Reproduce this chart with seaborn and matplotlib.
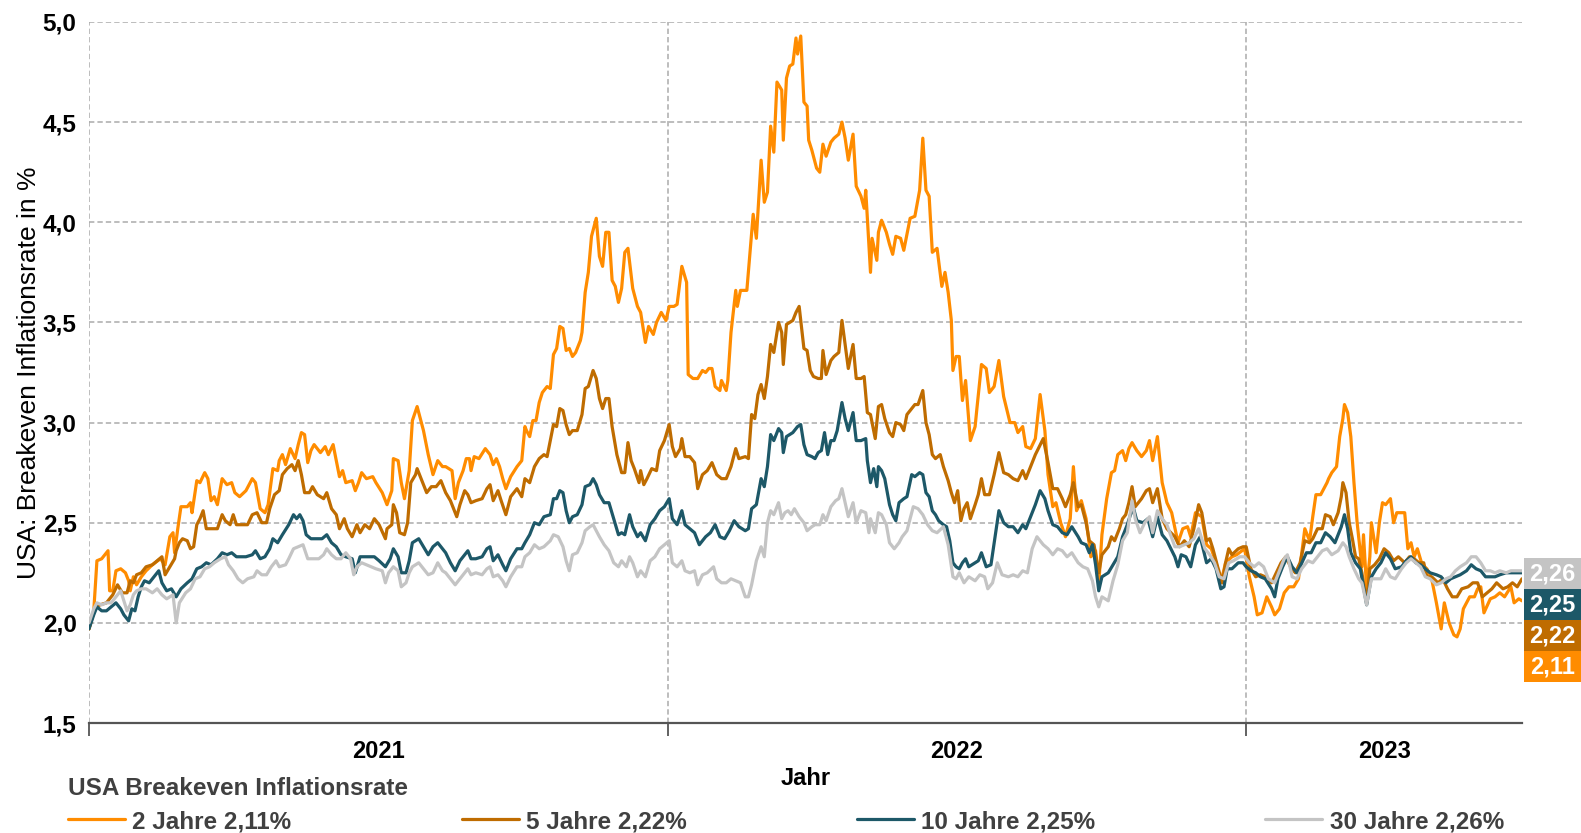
import matplotlib
matplotlib.use("Agg")
from matplotlib import pyplot as plt
from matplotlib.patches import Rectangle
from matplotlib.ticker import FuncFormatter, NullFormatter
import matplotlib.transforms as mtransforms
import pandas as pd
import seaborn as sns

START = pd.Timestamp("2021-01-01")
END_DAY = 904  # last trading day shown, days after START

# (days after 2021-01-01, breakeven rate in %)
s2 = [(0, 1.97), (3, 2.06), (5, 2.31), (8, 2.32), (12, 2.36), (13, 2.16), (15, 2.16), (17, 2.26), (20, 2.27),
      (23, 2.25), (25, 2.21), (26, 2.16), (28, 2.23), (30, 2.19), (33, 2.23), (36, 2.26), (40, 2.29), (45, 2.32),
      (48, 2.29), (51, 2.43), (53, 2.45), (54, 2.35), (56, 2.47), (58, 2.58), (62, 2.58), (64, 2.60), (65, 2.55),
      (68, 2.71), (70, 2.70), (73, 2.75), (75, 2.72), (77, 2.61), (79, 2.63), (81, 2.59), (84, 2.72), (87, 2.69),
      (90, 2.70), (92, 2.65), (95, 2.63), (99, 2.66), (103, 2.72), (105, 2.70), (108, 2.57), (111, 2.55),
      (113, 2.59), (116, 2.77), (119, 2.76), (120, 2.81), (122, 2.84), (124, 2.79), (127, 2.87), (130, 2.82),
      (132, 2.89), (134, 2.95), (136, 2.94), (138, 2.80), (140, 2.86), (142, 2.89), (146, 2.85), (149, 2.88),
      (151, 2.84), (154, 2.89), (156, 2.81), (158, 2.73), (160, 2.76), (162, 2.70), (166, 2.71), (168, 2.66),
      (170, 2.70), (172, 2.75), (175, 2.72), (179, 2.73), (181, 2.70), (185, 2.65), (188, 2.59), (191, 2.66),
      (192, 2.82), (195, 2.81), (197, 2.70), (199, 2.62), (202, 2.76), (204, 3.01), (207, 3.08), (211, 2.96),
      (214, 2.84), (217, 2.74), (220, 2.81), (223, 2.78), (225, 2.78), (229, 2.76), (231, 2.62), (233, 2.70),
      (236, 2.76), (238, 2.82), (240, 2.82), (241, 2.76), (243, 2.83), (246, 2.82), (250, 2.87), (253, 2.84),
      (255, 2.79), (257, 2.82), (259, 2.78), (261, 2.72), (263, 2.67), (266, 2.73), (270, 2.78), (273, 2.81),
      (275, 2.98), (276, 2.96), (278, 2.93), (280, 3.01), (282, 3.01), (284, 3.10), (286, 3.15), (289, 3.18),
      (291, 3.17), (293, 3.34), (295, 3.37), (297, 3.48), (299, 3.47), (301, 3.36), (303, 3.37), (305, 3.33),
      (307, 3.35), (310, 3.41), (311, 3.45), (313, 3.65), (315, 3.75), (317, 3.93), (320, 4.02), (322, 3.83),
      (324, 3.78), (326, 3.95), (328, 3.95), (330, 3.71), (332, 3.68), (334, 3.60), (336, 3.67), (338, 3.85),
      (340, 3.87), (343, 3.67), (346, 3.58), (348, 3.55), (351, 3.40), (353, 3.48), (356, 3.44), (358, 3.50),
      (361, 3.55), (364, 3.51), (366, 3.58), (369, 3.58), (371, 3.59), (374, 3.78), (377, 3.70), (378, 3.24),
      (381, 3.22), (384, 3.22), (387, 3.26), (389, 3.25), (391, 3.27), (393, 3.27), (395, 3.18), (398, 3.16),
      (399, 3.21), (402, 3.16), (403, 3.21), (405, 3.45), (408, 3.66), (409, 3.58), (411, 3.66), (415, 3.66),
      (418, 3.95), (419, 4.04), (421, 3.92), (424, 4.31), (426, 4.10), (428, 4.15), (430, 4.48), (432, 4.35),
      (434, 4.70), (437, 4.66), (438, 4.41), (440, 4.72), (442, 4.78), (444, 4.79), (446, 4.92), (447, 4.84),
      (449, 4.93), (451, 4.60), (453, 4.58), (454, 4.41), (456, 4.36), (459, 4.27), (461, 4.25), (463, 4.39),
      (465, 4.33), (468, 4.40), (470, 4.42), (473, 4.44), (475, 4.50), (477, 4.42), (479, 4.31), (482, 4.44),
      (484, 4.18), (487, 4.13), (489, 4.07), (490, 4.16), (493, 3.75), (494, 3.92), (497, 3.81), (498, 3.95),
      (500, 4.01), (503, 3.95), (505, 3.89), (507, 3.84), (509, 3.93), (512, 3.92), (514, 3.86), (518, 4.02),
      (521, 4.03), (524, 4.16), (526, 4.42), (528, 4.16), (530, 4.13), (532, 3.85), (535, 3.87), (538, 3.68),
      (540, 3.75), (542, 3.65), (544, 3.51), (545, 3.26), (547, 3.33), (549, 3.33), (551, 3.11), (553, 3.21),
      (556, 2.91), (559, 2.98), (560, 3.06), (563, 3.29), (566, 3.27), (568, 3.15), (571, 3.18), (574, 3.31),
      (577, 3.13), (581, 3.00), (584, 3.00), (586, 2.95), (589, 2.98), (591, 2.88), (594, 2.87), (597, 2.92),
      (600, 3.14), (603, 2.96), (605, 2.74), (608, 2.58), (610, 2.60), (613, 2.50), (616, 2.43), (619, 2.52),
      (621, 2.78), (623, 2.56), (626, 2.61), (629, 2.52), (632, 2.33), (635, 2.36), (637, 2.19), (639, 2.44),
      (642, 2.62), (645, 2.75), (647, 2.76), (649, 2.84), (652, 2.86), (654, 2.81), (656, 2.87), (658, 2.90),
      (661, 2.86), (664, 2.83), (667, 2.86), (669, 2.91), (671, 2.81), (674, 2.93), (677, 2.70), (680, 2.60),
      (683, 2.55), (687, 2.40), (690, 2.47), (693, 2.48), (695, 2.43), (698, 2.55), (702, 2.53), (705, 2.39),
      (708, 2.37), (711, 2.30), (714, 2.20), (717, 2.30), (721, 2.33), (724, 2.34), (729, 2.37), (732, 2.23),
      (735, 2.13), (737, 2.04), (740, 2.05), (743, 2.13), (746, 2.08), (748, 2.04), (751, 2.07), (754, 2.15),
      (757, 2.18), (760, 2.18), (763, 2.22), (767, 2.47), (770, 2.41), (772, 2.53), (774, 2.64), (777, 2.64),
      (781, 2.70), (782, 2.72), (784, 2.75), (787, 2.78), (789, 2.93), (791, 3.02), (792, 3.09), (794, 3.05),
      (796, 2.93), (798, 2.70), (800, 2.50), (803, 2.28), (804, 2.44), (806, 2.17), (808, 2.33), (809, 2.50),
      (812, 2.35), (814, 2.50), (816, 2.60), (818, 2.59), (821, 2.62), (823, 2.50), (825, 2.55), (828, 2.55),
      (830, 2.55), (832, 2.37), (834, 2.40), (836, 2.33), (838, 2.37), (841, 2.29), (844, 2.27), (847, 2.22),
      (850, 2.10), (853, 1.97), (855, 2.10), (858, 2.00), (861, 1.94), (863, 1.93), (865, 1.97), (867, 2.07),
      (871, 2.13), (874, 2.13), (876, 2.17), (878, 2.18), (880, 2.05), (884, 2.12), (887, 2.13), (890, 2.15),
      (893, 2.13), (897, 2.18), (899, 2.10), (902, 2.12), (904, 2.11)]

s5 = [(0, 1.97), (4, 2.08), (7, 2.09), (11, 2.10), (15, 2.14), (18, 2.19), (21, 2.15), (24, 2.15), (26, 2.21),
      (28, 2.20), (30, 2.24), (33, 2.25), (36, 2.28), (40, 2.29), (43, 2.31), (46, 2.33), (48, 2.24), (51, 2.28),
      (54, 2.32), (55, 2.36), (57, 2.40), (59, 2.42), (62, 2.41), (64, 2.37), (66, 2.38), (68, 2.49), (70, 2.52),
      (72, 2.56), (74, 2.47), (77, 2.47), (81, 2.47), (84, 2.54), (86, 2.51), (89, 2.49), (91, 2.54), (93, 2.49),
      (95, 2.49), (98, 2.49), (100, 2.49), (103, 2.54), (106, 2.55), (109, 2.50), (112, 2.50), (114, 2.57),
      (117, 2.64), (120, 2.66), (122, 2.74), (125, 2.77), (128, 2.79), (130, 2.76), (132, 2.81), (134, 2.74),
      (136, 2.65), (139, 2.65), (141, 2.68), (144, 2.64), (148, 2.62), (150, 2.65), (153, 2.57), (156, 2.54),
      (158, 2.47), (161, 2.52), (163, 2.47), (166, 2.43), (169, 2.49), (171, 2.45), (174, 2.49), (177, 2.47),
      (180, 2.52), (183, 2.49), (187, 2.42), (188, 2.47), (191, 2.49), (192, 2.59), (194, 2.55), (196, 2.45),
      (199, 2.44), (201, 2.50), (203, 2.70), (206, 2.74), (207, 2.77), (210, 2.71), (213, 2.65), (216, 2.68),
      (219, 2.68), (222, 2.71), (225, 2.65), (228, 2.61), (232, 2.53), (234, 2.59), (237, 2.66), (239, 2.64),
      (241, 2.60), (244, 2.61), (248, 2.62), (251, 2.67), (253, 2.69), (255, 2.61), (258, 2.66), (260, 2.61),
      (263, 2.54), (266, 2.63), (270, 2.67), (273, 2.63), (275, 2.72), (278, 2.70), (281, 2.78), (284, 2.82),
      (287, 2.84), (289, 2.83), (293, 2.99), (295, 2.98), (297, 3.07), (299, 3.06), (301, 2.99), (303, 2.94),
      (305, 2.96), (308, 2.96), (311, 3.04), (313, 3.17), (315, 3.18), (318, 3.26), (320, 3.22), (322, 3.12),
      (324, 3.07), (326, 3.12), (328, 3.12), (330, 2.98), (333, 2.84), (336, 2.75), (338, 2.75), (340, 2.90),
      (342, 2.81), (344, 2.77), (347, 2.70), (348, 2.76), (350, 2.69), (352, 2.72), (355, 2.77), (358, 2.76),
      (360, 2.86), (363, 2.91), (366, 2.99), (368, 2.88), (370, 2.83), (373, 2.87), (374, 2.92), (376, 2.83),
      (379, 2.83), (382, 2.80), (384, 2.67), (387, 2.74), (390, 2.76), (393, 2.80), (396, 2.74), (399, 2.72),
      (402, 2.72), (405, 2.78), (408, 2.87), (410, 2.82), (414, 2.83), (416, 2.82), (418, 3.04), (420, 3.02),
      (422, 3.14), (424, 3.19), (426, 3.12), (428, 3.23), (430, 3.39), (432, 3.35), (435, 3.50), (437, 3.45),
      (438, 3.29), (440, 3.49), (442, 3.50), (444, 3.51), (446, 3.55), (448, 3.58), (451, 3.37), (453, 3.36),
      (455, 3.26), (457, 3.23), (460, 3.22), (462, 3.22), (463, 3.36), (465, 3.24), (468, 3.31), (470, 3.33),
      (473, 3.35), (475, 3.51), (477, 3.39), (479, 3.27), (482, 3.39), (484, 3.22), (487, 3.22), (489, 3.23),
      (491, 3.05), (493, 3.04), (496, 2.92), (498, 3.08), (500, 3.09), (502, 3.02), (505, 2.95), (507, 2.93),
      (509, 3.00), (512, 2.99), (514, 2.96), (516, 3.04), (519, 3.07), (521, 3.09), (523, 3.09), (526, 3.16),
      (528, 3.00), (530, 2.94), (532, 2.84), (534, 2.82), (537, 2.84), (539, 2.78), (542, 2.71), (544, 2.65),
      (546, 2.60), (548, 2.66), (550, 2.51), (552, 2.57), (554, 2.60), (556, 2.52), (559, 2.59), (561, 2.64),
      (563, 2.72), (565, 2.64), (568, 2.64), (571, 2.74), (574, 2.85), (577, 2.75), (580, 2.74), (583, 2.72),
      (586, 2.71), (589, 2.76), (591, 2.72), (594, 2.78), (597, 2.84), (602, 2.92), (605, 2.80), (608, 2.67),
      (611, 2.67), (614, 2.62), (616, 2.58), (619, 2.64), (621, 2.70), (624, 2.58), (626, 2.59), (629, 2.50),
      (631, 2.41), (634, 2.39), (637, 2.25), (639, 2.34), (643, 2.38), (645, 2.43), (647, 2.41), (650, 2.47),
      (652, 2.52), (654, 2.54), (656, 2.60), (658, 2.68), (660, 2.58), (664, 2.62), (667, 2.66), (669, 2.67),
      (671, 2.60), (674, 2.67), (677, 2.52), (680, 2.47), (685, 2.43), (688, 2.38), (691, 2.41), (694, 2.38),
      (697, 2.47), (700, 2.59), (702, 2.55), (705, 2.41), (707, 2.42), (709, 2.37), (712, 2.28), (715, 2.20),
      (717, 2.30), (719, 2.37), (721, 2.34), (725, 2.37), (728, 2.38), (730, 2.38), (733, 2.27), (736, 2.23),
      (739, 2.24), (742, 2.23), (746, 2.20), (749, 2.25), (752, 2.30), (755, 2.33), (758, 2.28), (761, 2.25),
      (764, 2.30), (767, 2.41), (770, 2.40), (772, 2.42), (775, 2.47), (778, 2.47), (780, 2.54), (783, 2.53),
      (785, 2.49), (788, 2.55), (790, 2.63), (791, 2.70), (793, 2.65), (795, 2.50), (797, 2.42), (799, 2.33),
      (801, 2.32), (803, 2.25), (806, 2.10), (808, 2.27), (811, 2.29), (814, 2.32), (817, 2.37), (820, 2.35),
      (823, 2.31), (826, 2.33), (830, 2.30), (833, 2.33), (836, 2.32), (839, 2.30), (842, 2.30), (844, 2.23),
      (847, 2.23), (851, 2.20), (854, 2.22), (857, 2.17), (860, 2.13), (863, 2.13), (866, 2.17), (870, 2.18),
      (873, 2.20), (876, 2.20), (879, 2.13), (882, 2.15), (885, 2.17), (888, 2.20), (892, 2.17), (895, 2.18),
      (898, 2.20), (901, 2.18), (904, 2.22)]

s10 = [(0, 1.97), (3, 2.04), (5, 2.08), (8, 2.06), (11, 2.06), (14, 2.08), (17, 2.10), (20, 2.07), (22, 2.04),
       (25, 2.01), (27, 2.07), (29, 2.06), (31, 2.13), (33, 2.18), (35, 2.21), (38, 2.20), (42, 2.24), (44, 2.26),
       (46, 2.20), (49, 2.16), (52, 2.17), (55, 2.13), (58, 2.17), (62, 2.20), (65, 2.22), (68, 2.27), (71, 2.28),
       (74, 2.30), (77, 2.29), (81, 2.32), (84, 2.35), (87, 2.34), (90, 2.35), (93, 2.33), (96, 2.33), (99, 2.33),
       (103, 2.34), (105, 2.36), (108, 2.32), (111, 2.33), (114, 2.37), (116, 2.42), (119, 2.40), (122, 2.44),
       (126, 2.49), (129, 2.54), (131, 2.52), (133, 2.54), (135, 2.51), (137, 2.44), (140, 2.42), (144, 2.42),
       (147, 2.42), (150, 2.44), (153, 2.40), (156, 2.38), (159, 2.34), (162, 2.33), (166, 2.32), (168, 2.25),
       (171, 2.33), (174, 2.33), (177, 2.33), (180, 2.33), (183, 2.31), (187, 2.28), (190, 2.32), (192, 2.37),
       (195, 2.33), (197, 2.25), (200, 2.25), (202, 2.31), (204, 2.40), (208, 2.42), (211, 2.38), (214, 2.34),
       (217, 2.38), (220, 2.40), (223, 2.37), (225, 2.35), (228, 2.30), (231, 2.26), (234, 2.31), (237, 2.34),
       (239, 2.36), (241, 2.32), (244, 2.32), (248, 2.33), (251, 2.37), (253, 2.38), (255, 2.31), (258, 2.34),
       (261, 2.29), (263, 2.26), (266, 2.32), (270, 2.37), (273, 2.37), (275, 2.40), (278, 2.44), (281, 2.50),
       (284, 2.49), (287, 2.53), (291, 2.54), (293, 2.62), (295, 2.62), (297, 2.66), (299, 2.65), (301, 2.56),
       (303, 2.50), (305, 2.53), (308, 2.54), (311, 2.59), (313, 2.68), (316, 2.69), (318, 2.72), (320, 2.69),
       (322, 2.64), (325, 2.60), (328, 2.60), (331, 2.52), (334, 2.44), (336, 2.45), (338, 2.44), (341, 2.54),
       (343, 2.48), (346, 2.43), (348, 2.45), (351, 2.41), (354, 2.49), (357, 2.52), (360, 2.56), (363, 2.58),
       (366, 2.62), (368, 2.52), (371, 2.49), (374, 2.56), (376, 2.49), (379, 2.47), (382, 2.45), (385, 2.39),
       (389, 2.43), (392, 2.45), (395, 2.49), (398, 2.43), (401, 2.42), (404, 2.46), (407, 2.51), (410, 2.48),
       (414, 2.46), (416, 2.47), (418, 2.57), (421, 2.59), (424, 2.72), (426, 2.68), (428, 2.78), (430, 2.94),
       (432, 2.91), (435, 2.97), (437, 2.95), (438, 2.85), (440, 2.93), (442, 2.94), (444, 2.95), (447, 2.98),
       (449, 2.99), (451, 2.89), (453, 2.84), (456, 2.83), (458, 2.82), (460, 2.85), (462, 2.86), (464, 2.95),
       (466, 2.84), (468, 2.91), (470, 2.91), (472, 2.96), (475, 3.10), (477, 3.02), (479, 2.96), (482, 3.05),
       (484, 2.91), (487, 2.91), (490, 2.92), (491, 2.81), (493, 2.70), (495, 2.77), (497, 2.68), (498, 2.78),
       (500, 2.76), (502, 2.72), (505, 2.59), (507, 2.54), (509, 2.51), (511, 2.60), (514, 2.62), (516, 2.63),
       (519, 2.74), (521, 2.73), (524, 2.75), (526, 2.74), (528, 2.65), (530, 2.63), (532, 2.56), (534, 2.54),
       (536, 2.51), (539, 2.49), (541, 2.48), (543, 2.41), (545, 2.30), (547, 2.28), (549, 2.27), (551, 2.30),
       (553, 2.32), (555, 2.28), (557, 2.29), (561, 2.31), (563, 2.35), (566, 2.28), (569, 2.29), (572, 2.45),
       (574, 2.56), (577, 2.50), (580, 2.48), (583, 2.48), (586, 2.45), (589, 2.49), (591, 2.47), (594, 2.53),
       (597, 2.59), (600, 2.66), (603, 2.62), (605, 2.56), (608, 2.49), (611, 2.48), (614, 2.45), (617, 2.44),
       (620, 2.48), (624, 2.43), (626, 2.40), (629, 2.39), (631, 2.35), (633, 2.39), (635, 2.29), (637, 2.16),
       (639, 2.23), (643, 2.25), (646, 2.29), (649, 2.33), (652, 2.43), (655, 2.49), (657, 2.54), (659, 2.57),
       (661, 2.51), (665, 2.50), (668, 2.52), (671, 2.43), (674, 2.53), (677, 2.44), (680, 2.41), (685, 2.33),
       (687, 2.28), (689, 2.34), (692, 2.33), (695, 2.28), (698, 2.39), (701, 2.43), (705, 2.30), (708, 2.32),
       (711, 2.27), (714, 2.17), (716, 2.18), (718, 2.27), (721, 2.27), (725, 2.30), (728, 2.30), (730, 2.28),
       (733, 2.26), (736, 2.25), (739, 2.23), (742, 2.22), (746, 2.17), (748, 2.13), (750, 2.22), (753, 2.28),
       (756, 2.33), (759, 2.28), (762, 2.25), (764, 2.28), (768, 2.35), (771, 2.35), (774, 2.40), (777, 2.40),
       (780, 2.45), (783, 2.43), (786, 2.40), (790, 2.48), (792, 2.54), (794, 2.47), (796, 2.35), (799, 2.30),
       (802, 2.27), (806, 2.09), (809, 2.23), (812, 2.27), (815, 2.30), (818, 2.35), (821, 2.32), (824, 2.27),
       (828, 2.28), (831, 2.31), (834, 2.33), (837, 2.30), (840, 2.29), (843, 2.27), (846, 2.25), (850, 2.24),
       (853, 2.23), (856, 2.20), (859, 2.22), (862, 2.23), (865, 2.24), (869, 2.26), (872, 2.29), (875, 2.27),
       (878, 2.26), (881, 2.23), (884, 2.23), (887, 2.23), (890, 2.24), (894, 2.25), (897, 2.25), (900, 2.25),
       (904, 2.25)]

s30 = [(0, 2.00), (3, 2.07), (5, 2.10), (8, 2.09), (11, 2.10), (14, 2.10), (17, 2.13), (20, 2.16), (22, 2.11),
       (24, 2.06), (26, 2.09), (28, 2.14), (30, 2.16), (33, 2.17), (36, 2.17), (40, 2.15), (43, 2.17), (46, 2.14),
       (49, 2.12), (53, 2.14), (55, 2.00), (57, 2.10), (61, 2.15), (64, 2.17), (67, 2.22), (70, 2.23), (73, 2.27),
       (76, 2.28), (79, 2.30), (83, 2.32), (86, 2.33), (88, 2.29), (91, 2.26), (94, 2.22), (97, 2.20), (100, 2.22),
       (104, 2.23), (106, 2.26), (109, 2.24), (112, 2.24), (115, 2.28), (118, 2.31), (120, 2.28), (124, 2.29),
       (126, 2.32), (129, 2.37), (132, 2.38), (135, 2.39), (138, 2.32), (141, 2.32), (145, 2.32), (148, 2.34),
       (150, 2.37), (153, 2.34), (156, 2.32), (159, 2.32), (162, 2.35), (165, 2.32), (167, 2.24), (169, 2.28),
       (172, 2.30), (175, 2.29), (178, 2.28), (181, 2.27), (185, 2.26), (187, 2.20), (189, 2.25), (192, 2.28),
       (195, 2.26), (197, 2.18), (200, 2.20), (202, 2.25), (204, 2.28), (208, 2.30), (211, 2.27), (214, 2.24),
       (217, 2.25), (220, 2.30), (223, 2.26), (225, 2.25), (228, 2.22), (231, 2.19), (234, 2.22), (237, 2.25),
       (239, 2.27), (241, 2.24), (244, 2.25), (248, 2.24), (251, 2.27), (253, 2.28), (255, 2.23), (258, 2.24),
       (261, 2.21), (263, 2.18), (266, 2.23), (270, 2.28), (273, 2.28), (275, 2.33), (278, 2.35), (281, 2.39),
       (284, 2.37), (287, 2.38), (291, 2.41), (293, 2.44), (296, 2.43), (299, 2.38), (301, 2.31), (303, 2.26),
       (305, 2.34), (308, 2.35), (311, 2.40), (313, 2.46), (316, 2.48), (318, 2.49), (320, 2.46), (322, 2.43),
       (325, 2.39), (328, 2.36), (331, 2.30), (334, 2.28), (336, 2.31), (339, 2.28), (341, 2.33), (343, 2.30),
       (346, 2.23), (348, 2.26), (351, 2.23), (354, 2.31), (357, 2.33), (360, 2.37), (363, 2.39), (366, 2.41),
       (368, 2.30), (371, 2.28), (374, 2.31), (376, 2.26), (379, 2.25), (382, 2.26), (384, 2.19), (387, 2.24),
       (390, 2.25), (394, 2.28), (396, 2.22), (399, 2.20), (402, 2.20), (405, 2.22), (408, 2.21), (411, 2.20),
       (414, 2.13), (416, 2.13), (418, 2.19), (421, 2.31), (424, 2.38), (426, 2.33), (428, 2.50), (430, 2.56),
       (432, 2.54), (435, 2.60), (437, 2.52), (439, 2.55), (441, 2.56), (443, 2.54), (445, 2.57), (448, 2.53),
       (451, 2.50), (453, 2.46), (456, 2.48), (458, 2.49), (461, 2.49), (463, 2.54), (465, 2.51), (468, 2.58),
       (471, 2.61), (473, 2.62), (475, 2.67), (477, 2.60), (479, 2.53), (482, 2.60), (484, 2.50), (487, 2.56),
       (490, 2.55), (492, 2.45), (493, 2.52), (496, 2.45), (498, 2.55), (500, 2.54), (503, 2.49), (505, 2.40),
       (508, 2.37), (511, 2.40), (513, 2.43), (516, 2.46), (520, 2.58), (523, 2.57), (526, 2.54), (529, 2.49),
       (532, 2.46), (535, 2.45), (539, 2.48), (542, 2.39), (545, 2.23), (547, 2.22), (549, 2.25), (552, 2.20),
       (555, 2.23), (559, 2.21), (562, 2.24), (565, 2.23), (567, 2.17), (570, 2.20), (573, 2.30), (576, 2.24),
       (580, 2.23), (583, 2.24), (586, 2.23), (589, 2.26), (592, 2.25), (595, 2.37), (598, 2.43), (602, 2.39),
       (605, 2.37), (608, 2.34), (611, 2.37), (614, 2.36), (617, 2.33), (620, 2.35), (624, 2.30), (627, 2.28),
       (630, 2.27), (633, 2.21), (635, 2.13), (637, 2.08), (639, 2.13), (643, 2.11), (646, 2.21), (649, 2.29),
       (652, 2.41), (655, 2.45), (658, 2.61), (660, 2.52), (663, 2.45), (666, 2.50), (669, 2.53), (671, 2.45),
       (674, 2.56), (677, 2.52), (680, 2.49), (685, 2.38), (688, 2.38), (691, 2.39), (694, 2.40), (697, 2.42),
       (700, 2.47), (704, 2.37), (707, 2.34), (710, 2.30), (713, 2.23), (716, 2.22), (719, 2.30), (722, 2.31),
       (726, 2.33), (729, 2.33), (732, 2.30), (735, 2.28), (738, 2.30), (741, 2.28), (744, 2.22), (748, 2.20),
       (751, 2.26), (754, 2.32), (756, 2.34), (759, 2.23), (762, 2.22), (765, 2.27), (769, 2.31), (772, 2.30),
       (775, 2.33), (778, 2.36), (781, 2.37), (784, 2.34), (788, 2.36), (791, 2.40), (793, 2.38), (795, 2.33),
       (798, 2.27), (801, 2.22), (803, 2.20), (806, 2.09), (809, 2.22), (812, 2.22), (815, 2.22), (818, 2.27),
       (821, 2.23), (824, 2.22), (828, 2.27), (831, 2.30), (834, 2.32), (837, 2.30), (840, 2.28), (843, 2.23),
       (846, 2.22), (850, 2.19), (853, 2.20), (856, 2.22), (859, 2.23), (862, 2.26), (865, 2.28), (869, 2.30),
       (872, 2.33), (875, 2.33), (878, 2.30), (881, 2.26), (884, 2.26), (887, 2.25), (890, 2.26), (894, 2.25),
       (897, 2.26), (900, 2.26), (904, 2.26)]

SERIES = ["2 Jahre", "5 Jahre", "10 Jahre", "30 Jahre"]
COLORS = ["#FF8C00", "#BF6C00", "#1D5868", "#C4C4C4"]
TEXT_GREY = "#404040"

sns.set_theme(style="white")
plt.rcParams["font.family"] = ["Liberation Sans", "DejaVu Sans"]


def to_frame(points, name):
    df = pd.DataFrame(points, columns=["day", "rate"])
    df["date"] = START + pd.to_timedelta(df["day"], unit="D")
    df["serie"] = name
    return df


frames = [to_frame(p, n) for p, n in zip([s2, s5, s10, s30], SERIES)]

fig = plt.figure(figsize=(15.81, 8.33), dpi=100)
ax = fig.add_axes([89 / 1581, 1 - 723 / 833, (1522 - 89) / 1581, (723 - 22) / 833])

for df, name, col in zip(frames, SERIES, COLORS):
    last = df["rate"].iloc[-1]
    label = f"{name} {last:.2f}%".replace(".", ",")
    sns.lineplot(data=df, x="date", y="rate", color=col, linewidth=2.3,
                 estimator=None, sort=False, label=label, legend=False, ax=ax)

end_date = START + pd.Timedelta(days=END_DAY)
ax.set_xlim(START, end_date)
ax.set_ylim(1.5, 5.0)

# y axis
ax.set_yticks([1.5, 2.0, 2.5, 3.0, 3.5, 4.0, 4.5, 5.0])
ax.yaxis.set_major_formatter(FuncFormatter(lambda v, p: f"{v:.1f}".replace(".", ",")))
ax.tick_params(axis="y", length=0, pad=9, labelsize=17.5, labelcolor="black")
for t in ax.get_yticklabels():
    t.set_fontweight("bold")
ax.set_ylabel("USA: Breakeven Inflationsrate in %", fontsize=19, color="black", labelpad=1)

# x axis: ticks at year starts, year names centred in each year
year_starts = [pd.Timestamp(f"{y}-01-01") for y in (2021, 2022, 2023)]
mids = []
for i, ys in enumerate(year_starts):
    ye = year_starts[i + 1] if i + 1 < len(year_starts) else end_date
    mids.append(ys + (ye - ys) / 2)
ax.set_xticks(year_starts)
ax.xaxis.set_major_formatter(NullFormatter())
ax.set_xticks(mids, minor=True)
ax.set_xticklabels(["2021", "2022", "2023"], minor=True, fontsize=17, fontweight="bold")
ax.tick_params(axis="x", which="major", direction="out", length=9, width=1.3, color="#555555", bottom=True)
ax.tick_params(axis="x", which="minor", length=0, pad=12, labelcolor="black")
ax.set_xlabel("Jahr", fontsize=17, fontweight="bold", color="black", labelpad=3)

# grid and frame
ax.grid(True, axis="y", linestyle=(0, (3.5, 2)), color="#ababab", linewidth=1.1)
ax.grid(True, axis="x", which="major", linestyle=(0, (3.5, 2)), color="#ababab", linewidth=1.1)
for side in ("top", "right", "left"):
    ax.spines[side].set_visible(False)
ax.spines["bottom"].set_color("#555555")
ax.spines["bottom"].set_linewidth(1.6)

# value boxes to the right of the plot, stacked from the highest last value down
trans = mtransforms.blended_transform_factory(ax.transAxes, ax.transData)
box_h = 0.1545
order = sorted(range(4), key=lambda i: frames[i]["rate"].iloc[-1], reverse=True)
centre = frames[order[0]]["rate"].iloc[-1] - 0.015
for i in order:
    last = frames[i]["rate"].iloc[-1]
    centre = min(centre, last)
    ax.add_patch(Rectangle((1.0015, centre - box_h / 2), 0.0397, box_h, transform=trans,
                           facecolor=COLORS[i], edgecolor="none", clip_on=False))
    ax.text(1.0213, centre, f"{last:.2f}".replace(".", ","), transform=trans, ha="center", va="center",
            color="white", fontsize=17, fontweight="bold", clip_on=False)
    centre -= box_h

# legend along the bottom
handles = ax.get_lines()[:4]
labels = [h.get_label() for h in handles]
leg = fig.legend(handles, labels, loc="lower left", bbox_to_anchor=(68 / 1581, 0.0, (1504 - 68) / 1581, 0.1),
                 mode="expand", ncol=4, frameon=False, borderaxespad=0, borderpad=0.0,
                 handlelength=2.35, handletextpad=0.3, labelspacing=0.4,
                 title="USA Breakeven Inflationsrate", alignment="left",
                 prop={"size": 17.5, "weight": "bold"},
                 title_fontproperties={"size": 17.5, "weight": "bold"})
leg.get_title().set_color(TEXT_GREY)
for t in leg.get_texts():
    t.set_color(TEXT_GREY)

fig.savefig("out.png", dpi=100)
